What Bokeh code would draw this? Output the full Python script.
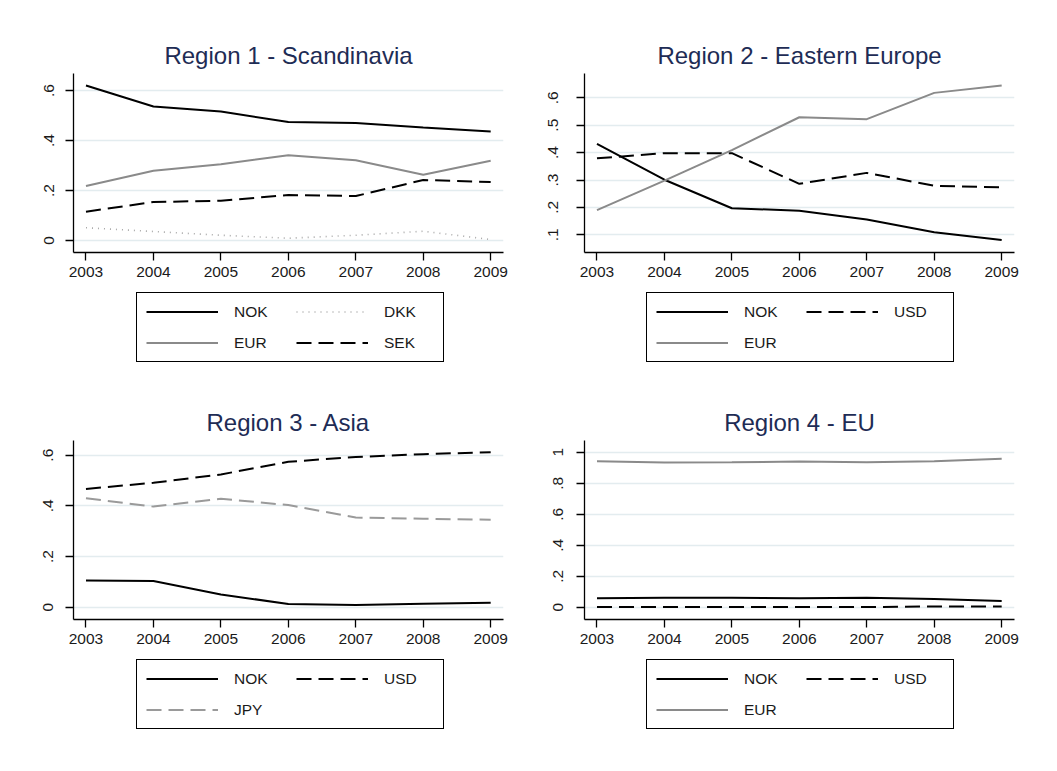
from bokeh.plotting import figure
from bokeh.layouts import column, row
from bokeh.models import Range1d, FixedTicker, CustomJSTickFormatter, Legend, LegendItem
from bokeh.embed import file_html
from bokeh.resources import INLINE

years = [2003, 2004, 2005, 2006, 2007, 2008, 2009]

# Region 1 - Scandinavia
r1_nok = [0.620, 0.536, 0.516, 0.474, 0.470, 0.452, 0.436]
r1_eur = [0.218, 0.279, 0.305, 0.341, 0.321, 0.263, 0.319]
r1_sek = [0.115, 0.154, 0.159, 0.182, 0.178, 0.242, 0.234]
r1_dkk = [0.051, 0.036, 0.021, 0.009, 0.021, 0.037, 0.004]

# Region 2 - Eastern Europe
r2_nok = [0.432, 0.301, 0.197, 0.188, 0.156, 0.109, 0.081]
r2_eur = [0.190, 0.298, 0.409, 0.529, 0.522, 0.618, 0.645]
r2_usd = [0.379, 0.398, 0.398, 0.286, 0.326, 0.279, 0.273]

# Region 3 - Asia
r3_nok = [0.105, 0.103, 0.050, 0.013, 0.009, 0.014, 0.018]
r3_usd = [0.467, 0.491, 0.524, 0.574, 0.593, 0.604, 0.612]
r3_jpy = [0.430, 0.397, 0.428, 0.403, 0.354, 0.349, 0.345]

# Region 4 - EU
r4_nok = [0.058, 0.062, 0.062, 0.058, 0.062, 0.054, 0.041]
r4_usd = [0.001, 0.001, 0.001, 0.001, 0.001, 0.005, 0.005]
r4_eur = [0.942, 0.933, 0.935, 0.940, 0.935, 0.942, 0.957]

titles = ["Region 1 - Scandinavia", "Region 2 - Eastern Europe", "Region 3 - Asia", "Region 4 - EU"]
yticks1 = [0, 0.2, 0.4, 0.6]
yticks2 = [0.1, 0.2, 0.3, 0.4, 0.5, 0.6]
yticks3 = [0, 0.2, 0.4, 0.6]
yticks4 = [0, 0.2, 0.4, 0.6, 0.8, 1.0]

FONT = "Liberation Sans"
BLACK = "#000000"
GRAY = "#8a8a8a"
LTGRAY = "#9a9a9a"
DOTGRAY = "#a8a8a8"
DASH = "15 7"
DOT = "1 5"


def make_fmt():
    return CustomJSTickFormatter(code="""
const s = (Math.round(tick*10)/10).toString();
return s.replace(/^0\\./, ".");
""")


def make_panel(title, yticks, ylim, series, w, h, borders, leg_h, leg_x, ystandoff):
    left, right, top, bottom = borders
    p = figure(width=w, height=h, output_backend="svg", toolbar_location=None,
               x_range=Range1d(2002.815, 2009.19), y_range=Range1d(*ylim),
               min_border_left=left, min_border_right=right,
               min_border_top=top, min_border_bottom=bottom)
    p.title.text = title
    p.title.align = "center"
    p.title.text_font = FONT
    p.title.text_font_size = "24px"
    p.title.text_font_style = "normal"
    p.title.text_color = "#1e2c55"
    p.outline_line_color = None

    p.xaxis.ticker = FixedTicker(ticks=years)
    p.yaxis.ticker = FixedTicker(ticks=yticks)
    p.yaxis.formatter = make_fmt()
    p.yaxis.major_label_orientation = "vertical"
    for ax in (p.xaxis[0], p.yaxis[0]):
        ax.axis_line_color = "black"
        ax.axis_line_width = 1.3
        ax.major_tick_line_color = "black"
        ax.major_tick_line_width = 1.3
        ax.major_tick_out = 8
        ax.major_tick_in = 0
        ax.minor_tick_line_color = None
        ax.major_label_text_font = FONT
        ax.major_label_text_font_size = "15.5px"
        ax.major_label_text_color = "#1a1a1a"
    p.xaxis.major_label_standoff = 6
    p.yaxis.major_label_standoff = ystandoff
    p.xgrid.grid_line_color = None
    p.ygrid.grid_line_color = "#e3ecef"
    p.ygrid.grid_line_width = 1.5

    for name, vals, color, dash, lw in series:
        p.line(years, vals, line_color=color, line_width=lw, line_dash=dash)

    # legend panel underneath: a small figure (its frame is aligned with the plot frame)
    # whose ranges exclude the data, so only the legend is visible
    lf = figure(width=w, height=leg_h, output_backend="svg", toolbar_location=None,
                x_axis_type=None, y_axis_type=None, title=None,
                x_range=Range1d(0, 1), y_range=Range1d(0, 1),
                min_border_left=left, min_border_right=right, min_border_top=0, min_border_bottom=0)
    lf.outline_line_color = None
    lf.xgrid.grid_line_color = None
    lf.ygrid.grid_line_color = None
    items = []
    for name, vals, color, dash, lw in series:
        r = lf.line(years, vals, line_color=color, line_width=lw, line_dash=dash)
        items.append(LegendItem(label=name, renderers=[r]))
    leg_height = 68
    leg = Legend(items=items, orientation="horizontal", ncols=2,
                 location=(leg_x, leg_h - 6 - leg_height),
                 glyph_width=72, glyph_height=19, label_width=50, label_height=19,
                 label_standoff=16, spacing=12, padding=9, margin=0,
                 border_line_color="black", border_line_width=1.4, border_line_alpha=1.0,
                 background_fill_color="white", background_fill_alpha=1.0,
                 label_text_font=FONT, label_text_font_size="15.5px",
                 label_text_color="#1a1a1a")
    lf.add_layout(leg)
    return column(p, lf, spacing=0)


p1 = make_panel(titles[0], yticks1, (-0.048, 0.668), [
    ("NOK", r1_nok, BLACK, "solid", 2),
    ("DKK", r1_dkk, DOTGRAY, DOT, 1.6),
    ("EUR", r1_eur, GRAY, "solid", 2),
    ("SEK", r1_sek, BLACK, DASH, 2),
], 528, 288, (73, 25, 73, 36), 92, 63, 12)

p2 = make_panel(titles[1], yticks2, (0.0354, 0.6887), [
    ("NOK", r2_nok, BLACK, "solid", 2),
    ("USD", r2_usd, BLACK, DASH, 2),
    ("EUR", r2_eur, GRAY, "solid", 2),
], 529, 288, (56, 43, 73, 36), 92, 62, 18)

p3 = make_panel(titles[2], yticks3, (-0.0486, 0.658), [
    ("NOK", r3_nok, BLACK, "solid", 2),
    ("USD", r3_usd, BLACK, DASH, 2),
    ("JPY", r3_jpy, LTGRAY, DASH, 2),
], 528, 275, (73, 25, 60, 36), 116, 63, 12)

p4 = make_panel(titles[3], yticks4, (-0.079, 1.0755), [
    ("NOK", r4_nok, BLACK, "solid", 2),
    ("USD", r4_usd, BLACK, DASH, 2),
    ("EUR", r4_eur, GRAY, "solid", 2),
], 529, 275, (56, 43, 60, 36), 116, 62, 13)

layout = column(row(p1, p2, spacing=0), row(p3, p4, spacing=0), spacing=0)
open("out.html", "w").write(file_html(layout, INLINE))
